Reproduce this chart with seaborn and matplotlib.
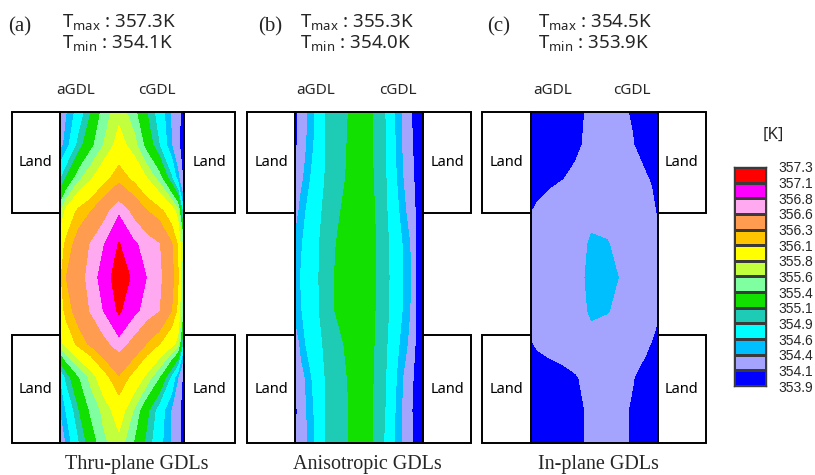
import numpy as np
import matplotlib
matplotlib.use("Agg")
import matplotlib.pyplot as plt
from matplotlib.patches import Rectangle
from matplotlib.colors import ListedColormap
import seaborn as sns

# ------------------------------------------------------------------ data
legend_levels = [353.9, 354.1, 354.4, 354.6, 354.9, 355.1, 355.4, 355.6,
                 355.8, 356.1, 356.3, 356.6, 356.8, 357.1, 357.3]
band_colors = ['#0000ff', '#a4a4ff', '#00bfff', '#00ffff', '#1ecbb4',
               '#12e000', '#80ffa0', '#c2ff3c', '#ffff00', '#ffc400',
               '#ff9c50', '#ffaaf0', '#ff00ff', '#ff0000']

# sample positions across the GDL (aGDL -> cGDL) and along the channel (top -> bottom)
x_pos = [0, 0.05, 0.15, 0.25, 0.35, 0.475, 0.6, 0.7, 0.8, 0.9, 0.95, 1.0]
y_pos = [0, 0.1, 0.2, 0.3, 0.4, 0.5, 0.6, 0.7, 0.8, 0.9, 1.0]

T_thru = [
    [354.22, 354.37, 354.72, 355.10, 355.49, 355.72, 355.46, 355.10, 354.77, 354.36, 354.18, 353.98],
    [354.30, 354.48, 354.98, 355.33, 355.60, 355.91, 355.68, 355.30, 354.90, 354.40, 354.15, 353.98],
    [354.85, 355.12, 355.54, 355.77, 356.00, 356.22, 356.03, 355.80, 355.51, 354.93, 354.48, 354.00],
    [355.55, 355.88, 356.16, 356.30, 356.50, 356.75, 356.51, 356.31, 356.18, 355.95, 355.70, 354.60],
    [355.95, 356.16, 356.42, 356.62, 356.78, 357.12, 356.83, 356.72, 356.61, 356.32, 356.08, 355.40],
    [356.05, 356.30, 356.50, 356.68, 356.90, 357.30, 357.02, 356.79, 356.65, 356.37, 356.15, 355.30],
    [355.95, 356.18, 356.42, 356.62, 356.80, 357.15, 356.85, 356.72, 356.60, 356.30, 356.05, 355.30],
    [355.70, 355.90, 356.17, 356.35, 356.52, 356.70, 356.50, 356.29, 356.11, 355.89, 355.72, 354.70],
    [354.60, 354.96, 355.38, 355.67, 355.99, 356.28, 356.00, 355.74, 355.41, 354.83, 354.41, 353.98],
    [354.38, 354.62, 355.08, 355.45, 355.65, 355.95, 355.57, 355.17, 354.77, 354.37, 354.19, 353.98],
    [354.25, 354.41, 354.87, 355.24, 355.55, 355.72, 355.37, 355.03, 354.69, 354.37, 354.19, 353.98],
]

T_aniso = [
    [354.03, 354.23, 354.58, 354.93, 355.02, 355.17, 355.11, 354.91, 354.52, 354.12, 354.02, 353.95],
    [354.03, 354.25, 354.61, 354.93, 355.02, 355.20, 355.11, 354.92, 354.53, 354.14, 354.03, 353.95],
    [354.08, 354.34, 354.70, 354.94, 355.03, 355.22, 355.12, 354.94, 354.57, 354.18, 354.04, 353.95],
    [354.25, 354.50, 354.79, 354.97, 355.09, 355.25, 355.14, 354.96, 354.64, 354.27, 354.05, 353.95],
    [354.45, 354.58, 354.83, 355.00, 355.14, 355.28, 355.15, 354.98, 354.72, 354.39, 354.05, 353.95],
    [354.48, 354.62, 354.83, 355.02, 355.16, 355.30, 355.15, 354.99, 354.73, 354.41, 354.05, 353.95],
    [354.47, 354.59, 354.82, 355.02, 355.15, 355.29, 355.14, 354.98, 354.72, 354.39, 354.05, 353.95],
    [354.12, 354.50, 354.80, 354.95, 355.06, 355.22, 355.13, 354.96, 354.64, 354.33, 354.03, 353.95],
    [354.06, 354.29, 354.67, 354.94, 355.03, 355.18, 355.12, 354.93, 354.57, 354.16, 354.03, 353.95],
    [354.03, 354.25, 354.61, 354.93, 355.02, 355.16, 355.11, 354.91, 354.53, 354.13, 354.02, 353.95],
    [354.05, 354.23, 354.58, 354.93, 355.02, 355.16, 355.11, 354.88, 354.52, 354.15, 354.02, 353.95],
]

T_inplane = [
    [353.93, 353.94, 353.97, 354.00, 354.03, 354.15, 354.18, 354.14, 354.08, 354.00, 353.96, 353.93],
    [353.94, 353.96, 353.99, 354.02, 354.05, 354.17, 354.20, 354.16, 354.11, 354.02, 353.97, 353.94],
    [353.97, 354.00, 354.05, 354.09, 354.15, 354.22, 354.24, 354.22, 354.18, 354.12, 354.08, 354.00],
    [354.09, 354.14, 354.20, 354.25, 354.30, 354.36, 354.34, 354.30, 354.25, 354.20, 354.15, 354.07],
    [354.18, 354.20, 354.24, 354.28, 354.33, 354.42, 354.41, 354.35, 354.30, 354.24, 354.20, 354.15],
    [354.18, 354.20, 354.23, 354.26, 354.28, 354.48, 354.47, 354.39, 354.33, 354.27, 354.23, 354.17],
    [354.18, 354.20, 354.23, 354.26, 354.30, 354.43, 354.41, 354.35, 354.30, 354.24, 354.20, 354.13],
    [354.08, 354.13, 354.18, 354.22, 354.27, 354.33, 354.30, 354.25, 354.20, 354.14, 354.09, 354.03],
    [353.95, 353.97, 354.00, 354.03, 354.08, 354.18, 354.20, 354.16, 354.11, 354.03, 353.98, 353.94],
    [353.93, 353.94, 353.97, 354.00, 354.03, 354.15, 354.18, 354.14, 354.08, 354.00, 353.96, 353.93],
    [353.93, 353.94, 353.97, 354.00, 354.03, 354.15, 354.18, 354.14, 354.08, 354.00, 353.96, 353.93],
]

panel_tags = ['(a)', '(b)', '(c)']
t_max = [357.3, 355.3, 354.5]
t_min = [354.1, 354.0, 353.9]
captions = ['Thru-plane GDLs', 'Anisotropic GDLs', 'In-plane GDLs']
side_labels = ['aGDL', 'cGDL']
land_label = 'Land'
unit_label = '[K]'

# ------------------------------------------------------------------ style
sns.set_theme(style='white')
plt.rcParams['font.family'] = ['Noto Sans', 'DejaVu Sans']
plt.rcParams['mathtext.fontset'] = 'custom'
plt.rcParams['mathtext.rm'] = 'Noto Sans'

W, H = 815, 475
fig = plt.figure(figsize=(W / 100, H / 100), dpi=100)
fig.patch.set_facecolor('white')


def fx(px):
    return px / W


def fy(py):
    return 1 - py / H


palette = sns.color_palette(band_colors)
fill_levels = [legend_levels[0] - 1.0] + legend_levels[1:-1] + [legend_levels[-1] + 1.0]

# layout in pixels: (land-left start, gdl left, gdl right, land-right end)
panel_px = [(12, 60, 184, 235), (247, 295, 423, 471), (482, 531, 658, 706)]
top_px, bot_px = 112, 443
land_top_end = 0.305
land_bot_start = 0.674
tag_x = [8, 258, 487]
tval_x = [62, 300, 538]
cap_x = [137, 367, 598]
agdl_x = [76, 316, 553]
cgdl_x = [157, 398, 632]

fields = [T_thru, T_aniso, T_inplane]
X, Y = np.meshgrid(np.array(x_pos), np.array(y_pos))
lw = 1.4

for i in range(3):
    ll, gl, gr, rr = panel_px[i]
    gw = gr - gl
    ax = fig.add_axes([fx(gl), fy(bot_px), gw / W, (bot_px - top_px) / H])
    ax.contourf(X, Y, np.array(fields[i]), levels=fill_levels, colors=palette)
    ax.set_xlim(0, 1)
    ax.set_ylim(1, 0)
    ax.set_xticks([])
    ax.set_yticks([])
    for s in ax.spines.values():
        s.set_visible(True)
        s.set_color('black')
        s.set_linewidth(lw)
    lwid = (gl - ll) / gw
    rwid = (rr - gr) / gw
    boxes = [(-lwid, 0, lwid, land_top_end), (-lwid, land_bot_start, lwid, 1 - land_bot_start),
             (1, 0, rwid, land_top_end), (1, land_bot_start, rwid, 1 - land_bot_start)]
    for (bx, by, bw, bh) in boxes:
        ax.add_patch(Rectangle((bx, by), bw, bh, facecolor='white', edgecolor='black',
                               linewidth=lw, clip_on=False, zorder=5))
        ax.text(bx + bw / 2, by + bh / 2, land_label, ha='center', va='center',
                fontsize=10.5, color='black', zorder=6, clip_on=False)

    fig.text(fx(tag_x[i]), fy(31), panel_tags[i], ha='left', va='baseline',
             family=['Liberation Serif', 'DejaVu Serif'], fontsize=15)
    fig.text(fx(tval_x[i]), fy(28), r'T$_{\mathrm{max}}$ : ' + f'{t_max[i]:.1f}K',
             ha='left', va='baseline', fontsize=13.5)
    fig.text(fx(tval_x[i]), fy(49), r'T$_{\mathrm{min}}$ : ' + f'{t_min[i]:.1f}K',
             ha='left', va='baseline', fontsize=13.5)
    fig.text(fx(agdl_x[i]), fy(90), side_labels[0], ha='center', va='center', fontsize=11)
    fig.text(fx(cgdl_x[i]), fy(90), side_labels[1], ha='center', va='center', fontsize=11)
    fig.text(fx(cap_x[i]), fy(469), captions[i], ha='center', va='baseline',
             family=['Liberation Serif', 'DejaVu Serif'], fontsize=14.5)

# ------------------------------------------------------------------ legend boxes
n = len(band_colors)
cax = fig.add_axes([fx(734), fy(386), 32 / W, (386 - 167) / H])
mat = np.arange(n)[::-1].reshape(-1, 1)
sns.heatmap(mat, ax=cax, cmap=ListedColormap(band_colors), vmin=-0.5, vmax=n - 0.5,
            cbar=False, linewidths=1.0, linecolor='#3a3a3a',
            xticklabels=False, yticklabels=False)
cax.set_yticks(np.arange(n + 1))
cax.set_yticklabels([f'{v:.1f}' for v in legend_levels[::-1]],
                    family=['Liberation Sans', 'DejaVu Sans'], fontsize=10, rotation=0)
cax.yaxis.tick_right()
cax.tick_params(axis='y', length=0, pad=9)
for s in cax.spines.values():
    s.set_visible(True)
    s.set_color('#3a3a3a')
    s.set_linewidth(1.0)
fig.text(fx(773), fy(135), unit_label, ha='center', va='center', fontsize=12)

fig.savefig('out.png', dpi=100, facecolor='white')
